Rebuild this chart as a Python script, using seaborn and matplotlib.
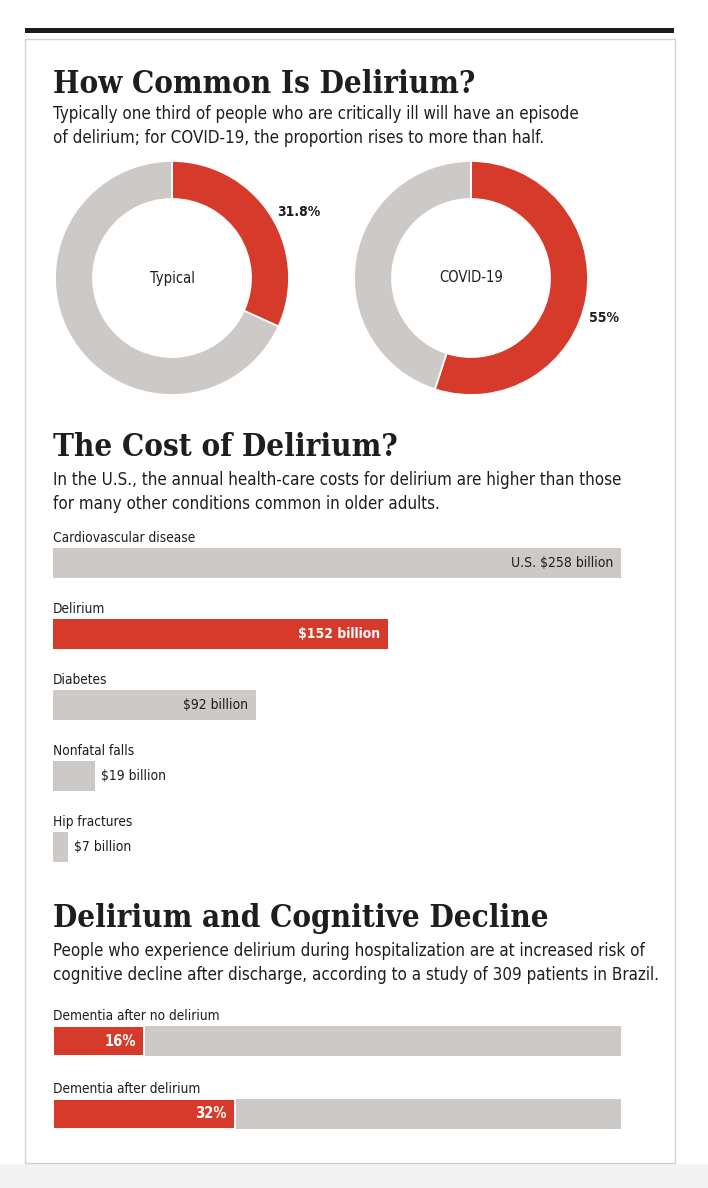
import matplotlib
matplotlib.use("Agg")
import matplotlib.pyplot as plt
from matplotlib.patches import Rectangle
from matplotlib.transforms import offset_copy
import seaborn as sns

# ---------------- data ----------------
donut_names = ["Typical", "COVID-19"]
donut_values = [31.8, 55.0]
donut_labels = ["31.8%", "55%"]

conditions = ["Cardiovascular disease", "Delirium", "Diabetes", "Nonfatal falls", "Hip fractures"]
costs = [258, 152, 92, 19, 7]
cost_labels = ["U.S. $258 billion", "$152 billion", "$92 billion", "$19 billion", "$7 billion"]

dementia_groups = ["Dementia after no delirium", "Dementia after delirium"]
dementia_pct = [16, 32]
dementia_labels = ["16%", "32%"]

titles = ["How Common Is Delirium?", "The Cost of Delirium?", "Delirium and Cognitive Decline"]
subtitles = [
    ["Typically one third of people who are critically ill will have an episode",
     "of delirium; for COVID-19, the proportion rises to more than half."],
    ["In the U.S., the annual health-care costs for delirium are higher than those",
     "for many other conditions common in older adults."],
    ["People who experience delirium during hospitalization are at increased risk of",
     "cognitive decline after discharge, according to a study of 309 patients in Brazil."],
]

# ---------------- style ----------------
RED = "#d63a2b"
GRAY = "#ccc9c7"
INK = "#1e1e1e"

sns.set_theme(style="white")
plt.rcParams["font.family"] = ["DejaVu Sans"]
plt.rcParams["font.stretch"] = "condensed"

W, H = 708, 1188
fig = plt.figure(figsize=(W / 100, H / 100), dpi=100)
fig.patch.set_facecolor("white")


def fx(x):
    return x / W


def fy(y):
    return 1 - y / H


def px_axes(x0, y0, x1, y1):
    return fig.add_axes([fx(x0), fy(y1), (x1 - x0) / W, (y1 - y0) / H])


# frame decorations
fig.add_artist(Rectangle((0, 0), 1, fy(1164), transform=fig.transFigure,
                         facecolor="#f3f3f3", edgecolor="none", zorder=-5))
fig.add_artist(Rectangle((fx(25), fy(33)), 649 / W, 5 / H, transform=fig.transFigure,
                         facecolor="#1b1b1b", edgecolor="none"))
fig.add_artist(Rectangle((fx(25), fy(1163)), 650 / W, (1163 - 39) / H, transform=fig.transFigure,
                         facecolor="white", edgecolor="#d2d2d2", linewidth=1.0, zorder=-4))

# titles and subtitles
title_base = [93, 456, 927]
sub_base = [(119, 143), (485, 509), (956, 980)]
for t, tb, subs, sb in zip(titles, title_base, subtitles, sub_base):
    fig.text(fx(53), fy(tb), t, family="DejaVu Serif", fontweight="bold",
             fontstretch="condensed", fontsize=22.5, color=INK, va="baseline")
    for line, b in zip(subs, sb):
        fig.text(fx(53), fy(b), line, fontsize=12.2, color=INK, va="baseline")

# ---------------- donuts ----------------
R = 117
centers = [(172, 278), (471, 278)]
label_pos = [(277, 212), (589, 318)]
for name, val, lab, (cx, cy), (lx, ly) in zip(donut_names, donut_values, donut_labels, centers, label_pos):
    ax = px_axes(cx - 1.25 * R, cy - 1.25 * R, cx + 1.25 * R, cy + 1.25 * R)
    ax.pie([val, 100 - val], colors=[RED, GRAY], startangle=90, counterclock=False,
           radius=1, wedgeprops=dict(width=38 / R, edgecolor="white", linewidth=1.3))
    ax.set_xlim(-1.25, 1.25)
    ax.set_ylim(-1.25, 1.25)
    ax.set_aspect("equal")
    ax.text(0, 0, name, ha="center", va="center", fontsize=10.5, color=INK)
    fig.text(fx(lx), fy(ly), lab, ha="left", va="center", fontsize=10,
             fontweight="bold", color=INK)

# ---------------- cost bars ----------------
step = 71
c0 = 563
ax2 = px_axes(53, c0 - step / 2, 621, c0 + step * (len(conditions) - 0.5))
bar_colors = [GRAY, RED, GRAY, GRAY, GRAY]
sns.barplot(x=costs, y=conditions, hue=conditions, palette=bar_colors, legend=False,
            orient="h", width=30 / step, saturation=1, linewidth=0, ax=ax2)
ax2.set_xlim(0, 258)
ax2.set_ylim(len(conditions) - 0.5, -0.5)
ax2.set_axis_off()
half = 15 / step
lab_tr = offset_copy(ax2.transData, fig=fig, x=0, y=6, units="dots")
in_tr = offset_copy(ax2.transData, fig=fig, x=-8, y=0, units="dots")
out_tr = offset_copy(ax2.transData, fig=fig, x=6, y=0, units="dots")
for i, (cond, v, lab, col) in enumerate(zip(conditions, costs, cost_labels, bar_colors)):
    ax2.text(0, i - half, cond, va="baseline", ha="left", fontsize=9.8, color=INK,
             transform=lab_tr, clip_on=False)
    if v > 50:
        white = col == RED
        ax2.text(v, i, lab, ha="right", va="center", fontsize=10,
                 color="white" if white else INK,
                 fontweight="bold" if white else "normal", transform=in_tr)
    else:
        ax2.text(v, i, lab, ha="left", va="center", fontsize=10, color=INK,
                 transform=out_tr)

# ---------------- dementia bars ----------------
step3 = 73
d0 = 1041
ax3 = px_axes(53, d0 - step3 / 2, 621, d0 + step3 * (len(dementia_groups) - 0.5))
sns.barplot(x=[100] * len(dementia_groups), y=dementia_groups, color=GRAY, orient="h",
            width=30 / step3, saturation=1, linewidth=0, ax=ax3)
sns.barplot(x=dementia_pct, y=dementia_groups, color=RED, orient="h",
            width=30 / step3, saturation=1, edgecolor="white", linewidth=1.4, ax=ax3)
ax3.set_xlim(0, 100)
ax3.set_ylim(len(dementia_groups) - 0.5, -0.5)
ax3.set_axis_off()
half3 = 15 / step3
lab_tr3 = offset_copy(ax3.transData, fig=fig, x=0, y=6, units="dots")
in_tr3 = offset_copy(ax3.transData, fig=fig, x=-8, y=0, units="dots")
for i, (g, v, lab) in enumerate(zip(dementia_groups, dementia_pct, dementia_labels)):
    ax3.text(0, i - half3, g, va="baseline", ha="left", fontsize=9.8, color=INK,
             transform=lab_tr3, clip_on=False)
    ax3.text(v, i, lab, ha="right", va="center", fontsize=10.5, color="white",
             fontweight="bold", transform=in_tr3)

fig.savefig("out.png", dpi=100, facecolor=fig.get_facecolor())
